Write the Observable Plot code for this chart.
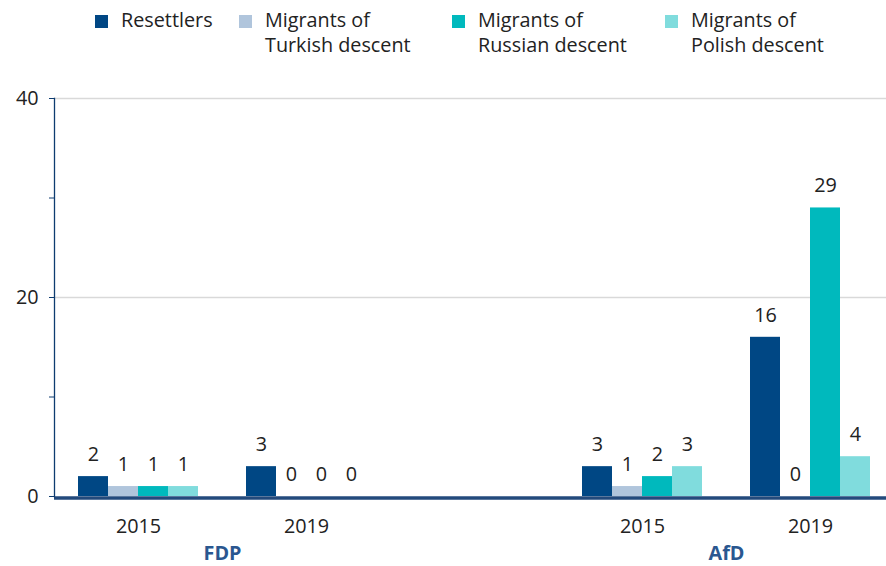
<!DOCTYPE html>
<html>
<head>
<meta charset="utf-8">
<script src="https://cdn.jsdelivr.net/npm/d3@7"></script>
<script src="https://cdn.jsdelivr.net/npm/@observablehq/plot@0.6"></script>
<style>
  body { margin: 0; background: #fff; font-family: "Open Sans", sans-serif; }
  #legend { position: relative; width: 886px; height: 70px; }
  .item { position: absolute; top: 7px; font-size: 19.8px; line-height: 25px; color: #222; }
  .sw { position: absolute; top: 15px; width: 13px; height: 13px; }
  svg { display: block; }
</style>
</head>
<body>
<div id="legend"></div>
<div id="chart"></div>
<script>
const groups = ["FDP 2015", "FDP 2019", "gap", "AfD 2015", "AfD 2019"];
const series = ["Resettlers", "Migrants of Turkish descent", "Migrants of Russian descent", "Migrants of Polish descent"];
const legendLines = [["Resettlers"], ["Migrants of", "Turkish descent"], ["Migrants of", "Russian descent"], ["Migrants of", "Polish descent"]];
const colors = ["#004784", "#b0c5dc", "#00b9bd", "#80dcdd"];
const resettlers = [2, 3, null, 3, 16];
const turkish = [1, 0, null, 1, 0];
const russian = [1, 0, null, 2, 29];
const polish = [1, 0, null, 3, 4];
const parties = [{g: "FDP 2015", label: "FDP"}, {g: "AfD 2015", label: "AfD"}];
const yTicks = [0, 10, 20, 30, 40];
const gridValues = [20, 40];

const valuesBySeries = [resettlers, turkish, russian, polish];
const rows = [];
groups.forEach((g, gi) => {
  series.forEach((s, si) => {
    const v = valuesBySeries[si][gi];
    rows.push({group: g, series: s, value: v ?? 0, show: v != null});
  });
});

// legend
const legendX = [95, 239, 452, 665];
const leg = document.getElementById("legend");
series.forEach((s, i) => {
  const sw = document.createElement("div");
  sw.className = "sw";
  sw.style.left = legendX[i] + "px";
  sw.style.background = colors[i];
  leg.appendChild(sw);
  const t = document.createElement("div");
  t.className = "item";
  t.style.left = (legendX[i] + 26) + "px";
  t.innerHTML = legendLines[i].join("<br>");
  leg.appendChild(t);
});

const FS = 19.8;
const chart = Plot.plot({
  width: 886,
  height: 496,
  marginLeft: 53,
  marginRight: -9,
  marginTop: 28,
  marginBottom: 70,
  style: {fontFamily: "Open Sans, sans-serif", fontSize: FS + "px", color: "#222", background: "#fff"},
  fx: {domain: groups, padding: 0, label: null},
  x: {domain: series, paddingInner: 0, paddingOuter: 0.75, axis: null},
  y: {domain: [0, 40], axis: null},
  color: {domain: series, range: colors},
  marks: [
    Plot.ruleY(gridValues, {stroke: "#d9d9d9", strokeWidth: 1.5}),
    Plot.barY(rows, {fx: "group", x: "series", y: "value", fill: "series", inset: 0}),
    Plot.text(rows.filter(d => d.show), {fx: "group", x: "series", y: "value", text: d => String(d.value), dy: -22, fill: "#222", fontSize: FS}),
    Plot.ruleY([0], {stroke: "#234a7c", strokeWidth: 3.5, dy: 1.5}),
    Plot.frame({anchor: "left", stroke: "#0e3c70", strokeWidth: 1.3, facetAnchor: "left"}),
    Plot.axisY({ticks: yTicks, tickSize: 5, tickPadding: 11, stroke: "#0e3c70", label: null, tickFormat: d => d % 20 === 0 ? d : "", fontSize: FS, fill: "#222", facetAnchor: "left"}),
    Plot.axisFx({anchor: "bottom", tickSize: 0, tickPadding: 22, label: null, tickFormat: d => d === "gap" ? "" : d.split(" ")[1], fontSize: FS, fill: "#222"}),
    Plot.text(parties, {fx: "g", text: "label", frameAnchor: "bottom-right", textAnchor: "middle", lineAnchor: "middle", dy: 57, fontWeight: "bold", fill: "#2a5790", fontSize: FS})
  ]
});
document.getElementById("chart").appendChild(chart);
</script>
</body>
</html>
